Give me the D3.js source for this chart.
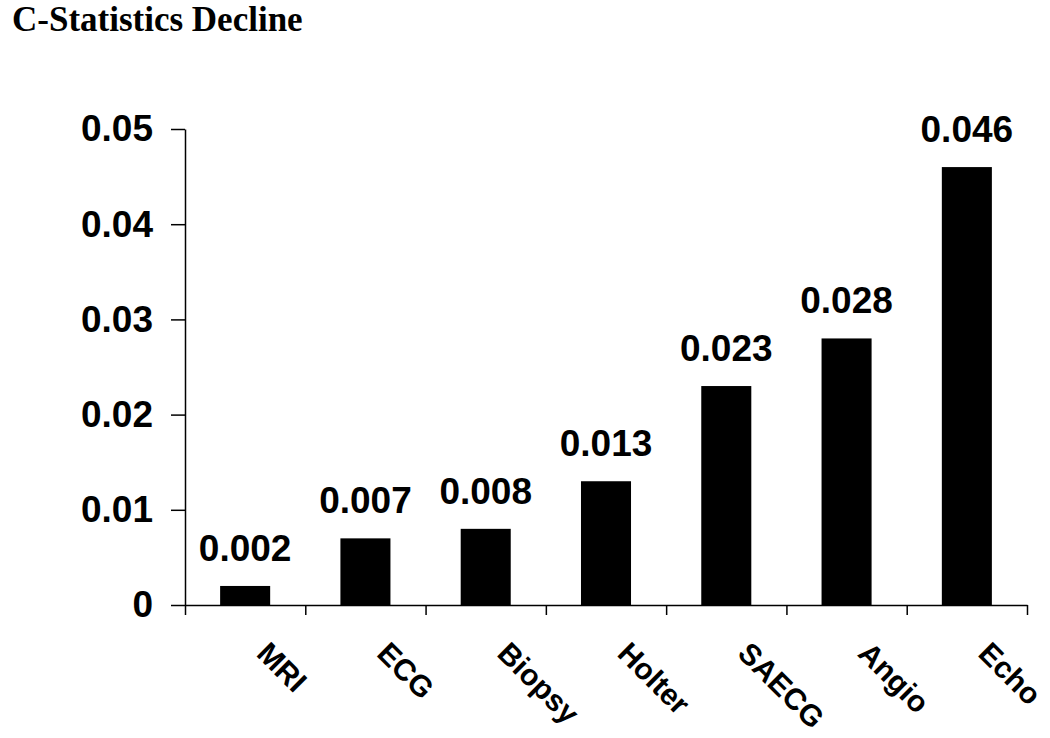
<!DOCTYPE html>
<html>
<head>
<meta charset="utf-8">
<script src="https://cdn.jsdelivr.net/npm/d3@7"></script>
<style>
  body { margin: 0; background: #fff; }
</style>
</head>
<body>
<div id="chart"></div>
<script>
// Data
var categories = ["MRI", "ECG", "Biopsy", "Holter", "SAECG", "Angio", "Echo"];
var values = [0.002, 0.007, 0.008, 0.013, 0.023, 0.028, 0.046];
var yTicks = [0, 0.01, 0.02, 0.03, 0.04, 0.05];

var svgWidth = 1050;
var svgHeight = 738;

var svg = d3.select("#chart")
    .append("svg")
    .attr("width", svgWidth)
    .attr("height", svgHeight);

// Plot area edges in page pixels
var plotLeft = 185, plotRight = 1027, plotTop = 129, plotBottom = 605;

var yScale = d3.scaleLinear()
    .domain([0, 0.05])
    .range([plotBottom, plotTop]);

var xBand = d3.scaleBand()
    .domain(categories)
    .range([plotLeft, plotRight])
    .paddingInner(0.584)
    .paddingOuter(0.292);

// linear scale for the category divider ticks
var xDiv = d3.scaleLinear()
    .domain([0, categories.length])
    .range([plotLeft, plotRight]);

// Title
svg.append("text")
    .attr("x", 12)
    .attr("y", 31)
    .attr("font-family", "'Liberation Serif', 'Times New Roman', serif")
    .attr("font-weight", "bold")
    .attr("font-size", "35px")
    .text("C-Statistics Decline");

// Bars
svg.selectAll(".bar")
    .data(values)
    .enter()
    .append("rect")
    .attr("class", "bar")
    .attr("x", (d, i) => xBand(categories[i]))
    .attr("y", d => yScale(d))
    .attr("width", xBand.bandwidth())
    .attr("height", d => plotBottom - yScale(d))
    .attr("fill", "#000");

// Value labels
svg.selectAll(".val")
    .data(values)
    .enter()
    .append("text")
    .attr("class", "val")
    .attr("x", (d, i) => xBand(categories[i]) + xBand.bandwidth() / 2)
    .attr("y", d => yScale(d) - 25)
    .attr("text-anchor", "middle")
    .attr("font-family", "'Liberation Sans', Arial, sans-serif")
    .attr("font-weight", "bold")
    .attr("font-size", "37px")
    .text(d => d3.format(".3f")(d));

// Y axis
var leftAxis = d3.axisLeft(yScale)
    .tickValues(yTicks)
    .tickSize(14)
    .tickSizeOuter(0)
    .tickPadding(18)
    .tickFormat(d => d === 0 ? "0" : d3.format(".2f")(d));

var yAxisG = svg.append("g")
    .attr("transform", `translate(${plotLeft}, 0)`)
    .call(leftAxis);

yAxisG.selectAll("text")
    .attr("font-family", "'Liberation Sans', Arial, sans-serif")
    .attr("font-weight", "bold")
    .attr("font-size", "37px")
    .attr("fill", "#000");
yAxisG.selectAll("line, path").attr("stroke", "#000").attr("stroke-width", 1.5);

// X axis (divider ticks between categories)
var bottomAxis = d3.axisBottom(xDiv)
    .tickValues(d3.range(categories.length + 1))
    .tickSize(10)
    .tickSizeOuter(0)
    .tickFormat("");

var xAxisG = svg.append("g")
    .attr("transform", `translate(0, ${plotBottom})`)
    .call(bottomAxis);
xAxisG.selectAll("line, path").attr("stroke", "#000").attr("stroke-width", 1.5);

// Category labels, rotated 45 degrees
svg.selectAll(".cat")
    .data(categories)
    .enter()
    .append("text")
    .attr("class", "cat")
    .attr("transform", d => `translate(${xBand(d) + xBand.bandwidth() / 2 + 10}, ${plotBottom + 50}) rotate(45)`)
    .attr("text-anchor", "start")
    .attr("font-family", "'Liberation Sans', Arial, sans-serif")
    .attr("font-weight", "bold")
    .attr("font-size", "30px")
    .text(d => d);
</script>
</body>
</html>
